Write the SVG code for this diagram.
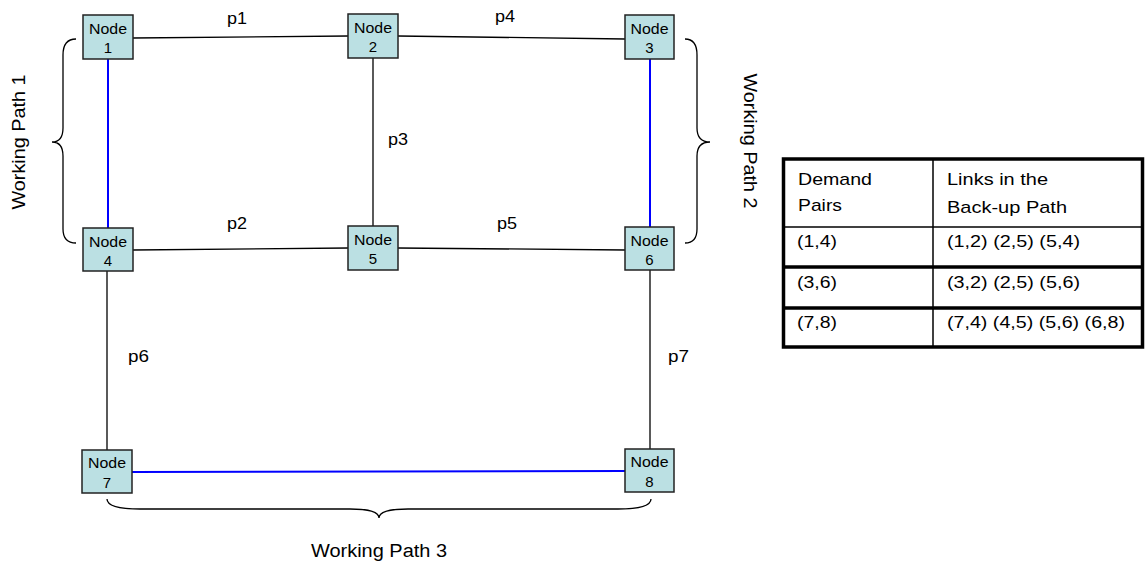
<svg xmlns="http://www.w3.org/2000/svg" width="1146" height="569" viewBox="0 0 1146 569">
<style>
text{font-family:"Liberation Sans",Arial,sans-serif;fill:#000}
.nb{fill:#BBE0E3;stroke:#222;stroke-width:1.5}
.nt{font-size:15px;text-anchor:middle}
.lk{stroke:#000;stroke-width:1.3;fill:none}
.bl{stroke:#0000FF;stroke-width:2;fill:none}
.lb{font-size:16px}
.br{stroke:#000;stroke-width:1.3;fill:none}
.wp{font-size:18px;text-anchor:middle}
.tt{font-size:17px}
.thin{stroke:#000;stroke-width:1.5}
.thick{stroke:#000;stroke-width:3.5}
</style>
<rect width="1146" height="569" fill="#fff"/>
<g id="connectors">
<line class="lk" x1="133" y1="38" x2="348" y2="36"/>
<line class="lk" x1="398" y1="36" x2="625" y2="39"/>
<line class="lk" x1="373" y1="58" x2="373" y2="226"/>
<line class="bl" x1="108" y1="59" x2="108" y2="228"/>
<line class="bl" x1="650" y1="59" x2="650" y2="227"/>
<line class="lk" x1="133" y1="250" x2="348" y2="248"/>
<line class="lk" x1="398" y1="248" x2="625" y2="250"/>
<line class="lk" x1="107" y1="271" x2="107" y2="450"/>
<line class="lk" x1="650" y1="270" x2="650" y2="449"/>
<line class="bl" x1="132" y1="472" x2="625" y2="471"/>
<text class="lb" x="227" y="24" textLength="20" lengthAdjust="spacingAndGlyphs">p1</text>
<text class="lb" x="495" y="22" textLength="20" lengthAdjust="spacingAndGlyphs">p4</text>
<text class="lb" x="388" y="145" textLength="20" lengthAdjust="spacingAndGlyphs">p3</text>
<text class="lb" x="227" y="229" textLength="20" lengthAdjust="spacingAndGlyphs">p2</text>
<text class="lb" x="497" y="229" textLength="20" lengthAdjust="spacingAndGlyphs">p5</text>
<text class="lb" x="128" y="362" textLength="21" lengthAdjust="spacingAndGlyphs">p6</text>
<text class="lb" x="668" y="362" textLength="21" lengthAdjust="spacingAndGlyphs">p7</text>
</g>
<g id="node1"><rect class="nb" x="83" y="15" width="50" height="44"/><text class="nt" x="108" y="34" textLength="38" lengthAdjust="spacingAndGlyphs">Node</text><text class="nt" x="108" y="53">1</text></g>
<g id="node2"><rect class="nb" x="348" y="14" width="50" height="44"/><text class="nt" x="373" y="33" textLength="38" lengthAdjust="spacingAndGlyphs">Node</text><text class="nt" x="373" y="52">2</text></g>
<g id="node3"><rect class="nb" x="625" y="15" width="49" height="44"/><text class="nt" x="649.5" y="34" textLength="38" lengthAdjust="spacingAndGlyphs">Node</text><text class="nt" x="649.5" y="53">3</text></g>
<g id="node4"><rect class="nb" x="83" y="228" width="50" height="43"/><text class="nt" x="108" y="247" textLength="38" lengthAdjust="spacingAndGlyphs">Node</text><text class="nt" x="108" y="266">4</text></g>
<g id="node5"><rect class="nb" x="348" y="226" width="50" height="44"/><text class="nt" x="373" y="245" textLength="38" lengthAdjust="spacingAndGlyphs">Node</text><text class="nt" x="373" y="264">5</text></g>
<g id="node6"><rect class="nb" x="625" y="227" width="49" height="43"/><text class="nt" x="649.5" y="246" textLength="38" lengthAdjust="spacingAndGlyphs">Node</text><text class="nt" x="649.5" y="265">6</text></g>
<g id="node7"><rect class="nb" x="82" y="450" width="50" height="43"/><text class="nt" x="107" y="468" textLength="38" lengthAdjust="spacingAndGlyphs">Node</text><text class="nt" x="107" y="488">7</text></g>
<g id="node8"><rect class="nb" x="625" y="449" width="49" height="43"/><text class="nt" x="649.5" y="467" textLength="38" lengthAdjust="spacingAndGlyphs">Node</text><text class="nt" x="649.5" y="487">8</text></g>
<g id="braces">
<path class="br" d="M76,39 Q63,39 63,55 L63,128 Q63,142 52,142 Q63,142 63,156 L63,229 Q63,243 76,243"/>
<path class="br" d="M685,39 Q697,39 697,55 L697,128 Q697,142 710,142 Q697,142 697,156 L697,229 Q697,243 685,243"/>
<path class="br" d="M107,499 Q107,509 140,509 L350,509 Q379,509 379,518 Q379,509 408,509 L618,509 Q651,509 651,499"/>
<text class="wp" transform="translate(25,142) rotate(-90)" x="0" y="0" textLength="135" lengthAdjust="spacingAndGlyphs">Working Path 1</text>
<text class="wp" transform="translate(744,141) rotate(90)" x="0" y="0" textLength="135" lengthAdjust="spacingAndGlyphs">Working Path 2</text>
<text class="wp" x="379" y="557" textLength="136" lengthAdjust="spacingAndGlyphs">Working Path 3</text>
</g>
<g id="table">
<rect x="783.5" y="159" width="359" height="188" fill="#fff" class="thick"/>
<line class="thin" x1="933" y1="159" x2="933" y2="347"/>
<line class="thin" x1="783.5" y1="227" x2="1142.5" y2="227"/>
<line class="thick" x1="783.5" y1="267" x2="1142.5" y2="267"/>
<line class="thick" x1="783.5" y1="308" x2="1142.5" y2="308"/>
<text class="tt" x="798" y="185" textLength="74" lengthAdjust="spacingAndGlyphs">Demand</text>
<text class="tt" x="798" y="211" textLength="44" lengthAdjust="spacingAndGlyphs">Pairs</text>
<text class="tt" x="947" y="185" textLength="101" lengthAdjust="spacingAndGlyphs">Links in the</text>
<text class="tt" x="947" y="213" textLength="120" lengthAdjust="spacingAndGlyphs">Back-up Path</text>
<text class="tt" x="797" y="247" textLength="40" lengthAdjust="spacingAndGlyphs">(1,4)</text>
<text class="tt" x="947" y="247" textLength="133" lengthAdjust="spacingAndGlyphs">(1,2) (2,5) (5,4)</text>
<text class="tt" x="797" y="288" textLength="40" lengthAdjust="spacingAndGlyphs">(3,6)</text>
<text class="tt" x="947" y="288" textLength="133" lengthAdjust="spacingAndGlyphs">(3,2) (2,5) (5,6)</text>
<text class="tt" x="797" y="328" textLength="40" lengthAdjust="spacingAndGlyphs">(7,8)</text>
<text class="tt" x="947" y="328" textLength="178" lengthAdjust="spacingAndGlyphs">(7,4) (4,5) (5,6) (6,8)</text>
</g>
</svg>
